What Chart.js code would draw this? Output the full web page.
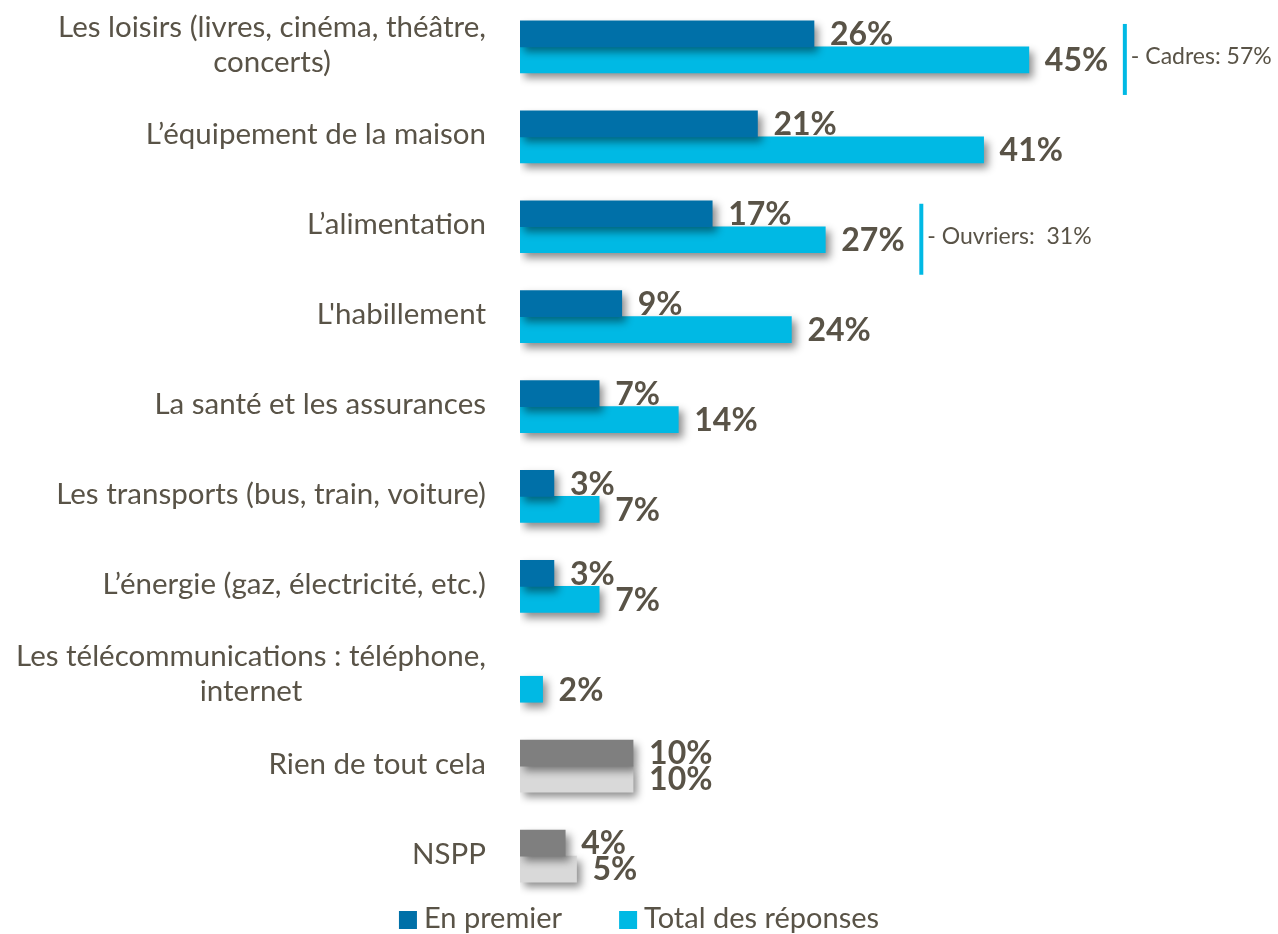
<!DOCTYPE html>
<html lang="fr">
<head>
<meta charset="UTF-8">
<title>Postes de dépenses</title>
<script src="https://cdn.jsdelivr.net/npm/chart.js"></script>
<style>
    html, body { margin: 0; padding: 0; background: #fff; }
    .wrap { width: 1278px; height: 934px; position: relative; }
</style>
</head>
<body>
<div class="wrap"><canvas id="chart" width="1278" height="934"></canvas></div>
<script>
// données
const categories = [
    ['Les loisirs (livres, cinéma, théâtre,', 'concerts)'],
    ['L’équipement de la maison'],
    ['L’alimentation'],
    ["L'habillement"],
    ['La santé et les assurances'],
    ['Les transports (bus, train, voiture)'],
    ['L’énergie (gaz, électricité, etc.)'],
    ['Les télécommunications : téléphone,', 'internet'],
    ['Rien de tout cela'],
    ['NSPP']
];
const enPremier = [26, 21, 17, 9, 7, 3, 3, null, 10, 4];
const totalReponses = [45, 41, 27, 24, 14, 7, 7, 2, 10, 5];
const seriesNames = ['En premier', 'Total des réponses'];
// annotations (catégorie, texte)
const noteIndex = [0, 2];
const noteText = ['- Cadres: 57%', '- Ouvriers:  31%'];

const DARK = '#0070a8';
const LIGHT = '#00b9e4';
const GREY_DARK = '#7f7f7f';
const GREY_LIGHT = '#d9d9d9';
const TXT = '#595347';
const FONT = 'Lato, "Open Sans", sans-serif';

const decor = {
    id: 'decor',
    beforeDatasetsDraw(chart) {
        const ctx = chart.ctx;
        ctx.save();
        ctx.shadowColor = 'rgba(0,0,0,0.45)';
        ctx.shadowBlur = 8;
        ctx.shadowOffsetX = 4;
        ctx.shadowOffsetY = 5;
    },
    afterDatasetsDraw(chart) {
        const ctx = chart.ctx;
        ctx.restore();
        const xs = chart.scales.x, ys = chart.scales.y;

        // valeurs
        ctx.save();
        ctx.fillStyle = TXT;
        ctx.font = 'bold 32px ' + FONT;
        ctx.textBaseline = 'middle';
        ctx.textAlign = 'left';
        chart.data.datasets.forEach((ds, di) => {
            chart.getDatasetMeta(di).data.forEach((bar, i) => {
                const v = ds.data[i];
                if (v == null) return;
                ctx.fillText(v + '%', bar.x + 16, bar.y + 1);
            });
        });
        ctx.restore();

        // libellés des catégories
        ctx.save();
        ctx.fillStyle = TXT;
        ctx.font = '29.5px ' + FONT;
        ctx.textBaseline = 'middle';
        ctx.textAlign = 'center';
        const right = 486, lh = 35;
        categories.forEach((lines, i) => {
            const cy = ys.getPixelForValue(i) - 2;
            const w = Math.max(...lines.map(l => ctx.measureText(l).width));
            const cx = right - w / 2;
            lines.forEach((l, k) => {
                ctx.fillText(l, cx, cy + (k - (lines.length - 1) / 2) * lh);
            });
        });
        ctx.restore();

        // annotations
        ctx.save();
        const meta = chart.getDatasetMeta(1);
        noteIndex.forEach((idx, n) => {
            const bar = meta.data[idx];
            const lx = xs.getPixelForValue(totalReponses[idx]) + 96;
            ctx.strokeStyle = LIGHT;
            ctx.lineWidth = 4;
            ctx.beginPath();
            ctx.moveTo(lx, bar.y - 36);
            ctx.lineTo(lx, bar.y + 35);
            ctx.stroke();
            ctx.fillStyle = TXT;
            ctx.font = '23px ' + FONT;
            ctx.textBaseline = 'middle';
            ctx.textAlign = 'left';
            ctx.fillText(noteText[n], lx + 6, bar.y - 3);
        });
        ctx.restore();

        // légende
        ctx.save();
        ctx.font = '29px ' + FONT;
        ctx.textBaseline = 'middle';
        ctx.textAlign = 'left';
        const box = 18, gap = 7, between = 57;
        const colors = [DARK, LIGHT];
        const widths = seriesNames.map(s => box + gap + ctx.measureText(s).width);
        const total = widths[0] + widths[1] + between;
        let x = chart.width / 2 - total / 2;
        const y = 919;
        seriesNames.forEach((s, i) => {
            ctx.fillStyle = colors[i];
            ctx.fillRect(x, y - box / 2 + 1, box, box);
            ctx.fillStyle = TXT;
            ctx.fillText(s, x + box + gap, y);
            x += widths[i] + between;
        });
        ctx.restore();
    }
};

new Chart(document.getElementById('chart'), {
    type: 'bar',
    data: {
        labels: categories,
        datasets: [
            {
                label: seriesNames[0],
                data: enPremier,
                backgroundColor: c => c.dataIndex >= 8 ? GREY_DARK : DARK,
                barThickness: 26
            },
            {
                label: seriesNames[1],
                data: totalReponses,
                backgroundColor: c => c.dataIndex >= 8 ? GREY_LIGHT : LIGHT,
                barThickness: 26
            }
        ]
    },
    options: {
        indexAxis: 'y',
        responsive: false,
        animation: false,
        layout: { padding: { left: 520, right: 23, top: 2, bottom: 33 } },
        scales: {
            x: { display: false, min: 0, max: 65 },
            y: { display: false }
        },
        plugins: {
            legend: { display: false },
            tooltip: { enabled: false }
        }
    },
    plugins: [decor]
});
</script>
</body>
</html>
